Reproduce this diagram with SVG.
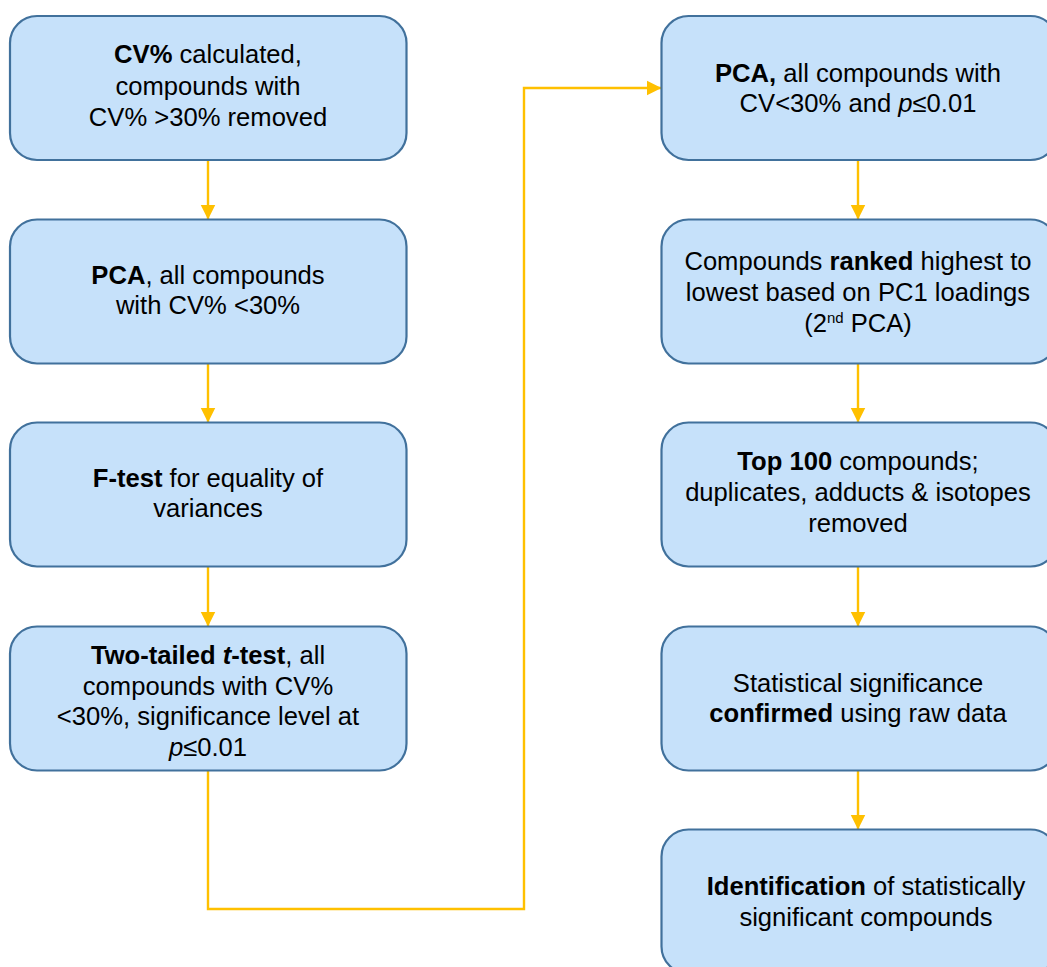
<svg xmlns="http://www.w3.org/2000/svg" width="1047" height="967" viewBox="0 0 1047 967">
  <style>
    .box { fill: #C6E1FA; stroke: #41719C; stroke-width: 2.2; }
    .lbl { font-family: "Liberation Sans", Arial, sans-serif; font-size: 25.6px; fill: #000; text-anchor: middle; }
    .b { font-weight: bold; }
    .i { font-style: italic; }
    .sup { font-size: 15px; }
    .conn { fill: none; stroke: #FFC000; stroke-width: 2.4; }
  </style>
  <defs>
    <marker id="arrow" markerUnits="userSpaceOnUse" markerWidth="16" markerHeight="16" viewBox="0 0 16 16" refX="15" refY="8" orient="auto">
      <path d="M0,0.5 L15,8 L0,15.5 z" fill="#FFC000"/>
    </marker>
  </defs>
  <rect width="1047" height="967" fill="#FFFFFF"/>

  <!-- connectors -->
  <g id="connectors">
    <path class="conn" d="M208 160 V219.5" marker-end="url(#arrow)"/>
    <path class="conn" d="M208 363.5 V422.5" marker-end="url(#arrow)"/>
    <path class="conn" d="M208 566.5 V626.5" marker-end="url(#arrow)"/>
    <path class="conn" d="M208 771 V909 H524 V88 H661.5" marker-end="url(#arrow)"/>
    <path class="conn" d="M858 160 V219.5" marker-end="url(#arrow)"/>
    <path class="conn" d="M858 363.5 V422.5" marker-end="url(#arrow)"/>
    <path class="conn" d="M858 566.5 V626.5" marker-end="url(#arrow)"/>
    <path class="conn" d="M858 770.5 V829.5" marker-end="url(#arrow)"/>
  </g>

  <!-- left column -->
  <g id="cv-filter">
    <rect class="box" x="10" y="16" width="396.5" height="144" rx="27"/>
    <text class="lbl" x="208" y="63"><tspan class="b">CV%</tspan> calculated,</text>
    <text class="lbl" x="208" y="94.5">compounds with</text>
    <text class="lbl" x="208" y="126">CV% &gt;30% removed</text>
  </g>
  <g id="pca-1">
    <rect class="box" x="10" y="219.5" width="396.5" height="144" rx="27"/>
    <text class="lbl" x="208" y="283.5"><tspan class="b">PCA</tspan>, all compounds</text>
    <text class="lbl" x="208" y="314">with CV% &lt;30%</text>
  </g>
  <g id="f-test">
    <rect class="box" x="10" y="422.5" width="396.5" height="144" rx="27"/>
    <text class="lbl" x="208" y="486.5"><tspan class="b">F-test</tspan> for equality of</text>
    <text class="lbl" x="208" y="517">variances</text>
  </g>
  <g id="t-test">
    <rect class="box" x="10" y="626.5" width="396.5" height="144" rx="27"/>
    <text class="lbl" x="208" y="664"><tspan class="b">Two-tailed </tspan><tspan class="b i">t</tspan><tspan class="b">-test</tspan>, all</text>
    <text class="lbl" x="208" y="694.5">compounds with CV%</text>
    <text class="lbl" x="208" y="725">&lt;30%, significance level at</text>
    <text class="lbl" x="208" y="755.5"><tspan class="i">p</tspan>≤0.01</text>
  </g>

  <!-- right column -->
  <g id="pca-2">
    <rect class="box" x="661.5" y="16" width="396" height="144" rx="27"/>
    <text class="lbl" x="858" y="81.5"><tspan class="b">PCA,</tspan> all compounds with</text>
    <text class="lbl" x="858" y="111.5">CV&lt;30% and <tspan class="i">p</tspan>≤0.01</text>
  </g>
  <g id="ranking">
    <rect class="box" x="661.5" y="219.5" width="396" height="144" rx="27"/>
    <text class="lbl" x="858" y="270">Compounds <tspan class="b">ranked</tspan> highest to</text>
    <text class="lbl" x="858" y="301">lowest based on PC1 loadings</text>
    <text class="lbl" x="858" y="332">(2<tspan class="sup" dy="-9">nd</tspan><tspan dy="9"> PCA)</tspan></text>
  </g>
  <g id="top-100">
    <rect class="box" x="661.5" y="422.5" width="396" height="144" rx="27"/>
    <text class="lbl" x="858" y="470"><tspan class="b">Top 100</tspan> compounds;</text>
    <text class="lbl" x="858" y="501">duplicates, adducts &amp; isotopes</text>
    <text class="lbl" x="858" y="532">removed</text>
  </g>
  <g id="confirmation">
    <rect class="box" x="661.5" y="626.5" width="396" height="144" rx="27"/>
    <text class="lbl" x="858" y="691.5">Statistical significance</text>
    <text class="lbl" x="858" y="722"><tspan class="b">confirmed</tspan> using raw data</text>
  </g>
  <g id="identification">
    <rect class="box" x="661.5" y="829.5" width="396" height="144" rx="27"/>
    <text class="lbl" x="866" y="895"><tspan class="b">Identification</tspan> of statistically</text>
    <text class="lbl" x="866" y="925.5">significant compounds</text>
  </g>
</svg>
